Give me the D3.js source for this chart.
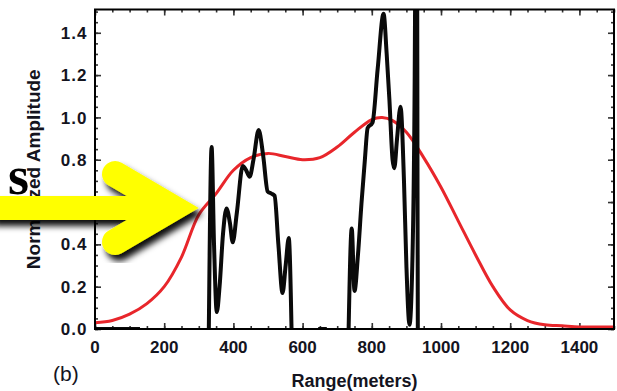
<!DOCTYPE html>
<meta charset="utf-8">
<style>
body { margin: 0; background: #fff; }
.tickLabel { font-family: "Liberation Sans", Arial, sans-serif; font-weight: bold; font-size: 17px; fill: #14141e; }
</style>
<html>
<body>
<div id="chart"></div>
<script src="https://d3js.org/d3.v7.min.js"></script>
<script>

// tick values
var rangeTicks = [0, 200, 400, 600, 800, 1000, 1200, 1400];
var ampTicks = [0.0, 0.2, 0.4, 0.6, 0.8, 1.0, 1.2, 1.4];

// red (smooth envelope)
var redRange = [0, 50, 100, 150, 200, 250, 300, 350, 400, 450, 500, 550, 600, 650, 700, 750, 800, 830, 860, 900, 950, 1000, 1050, 1100, 1150, 1200, 1250, 1300, 1350, 1400, 1450, 1500];
var redAmp   = [0.03, 0.04, 0.07, 0.12, 0.2, 0.34, 0.54, 0.64, 0.75, 0.81, 0.83, 0.815, 0.80, 0.81, 0.86, 0.93, 0.99, 1.0, 0.985, 0.93, 0.81, 0.67, 0.51, 0.35, 0.2, 0.09, 0.04, 0.02, 0.015, 0.01, 0.01, 0.01];

// black (measured), null = no data
var blackRange = [0, 130, 131,
  329, 337, 344, 352, 360, 370, 380, 390, 398, 410, 427, 437, 447, 458, 473, 486, 499, 510, 519, 530, 542, 551, 560, 568,
  569, 645, 670, 671,
  733, 742, 750, 760, 770, 780, 788, 802, 817, 834, 843, 851, 860, 865, 873, 883, 893, 900, 909, 917, 924, 926, 928, 931, 932, 933];
var blackAmp = [0, 0, null,
  0, 0.86, 0.4, 0.08, 0.2, 0.45, 0.57, 0.5, 0.41, 0.55, 0.77, 0.75, 0.72, 0.8, 0.94, 0.82, 0.65, 0.64, 0.63, 0.4, 0.17, 0.3, 0.43, 0,
  null, 0, 0, null,
  0, 0.475, 0.18, 0.35, 0.59, 0.8, 0.95, 0.975, 1.23, 1.49, 1.3, 1.08, 0.8, 0.76, 0.9, 1.05, 0.7, 0.3, 0.02, 0.3, 1.2, 1.8, 2.2, 1.8, 0.8, 0];

var W = 617, H = 391;
var margin = {top: 9.5, right: 3, bottom: 62, left: 95},
    width = W - margin.left - margin.right,
    height = H - margin.top - margin.bottom;

var svg = d3.select("#chart").append("svg")
    .attr("width", W).attr("height", H);

var defs = svg.append("defs");
defs.append("clipPath").attr("id", "plotClip")
  .append("rect").attr("width", width).attr("height", height);
var f = defs.append("filter").attr("id", "shadow")
    .attr("x", "-20%").attr("y", "-20%").attr("width", "150%").attr("height", "150%");
f.append("feDropShadow").attr("dx", 4).attr("dy", 6).attr("stdDeviation", 3)
  .attr("flood-color", "#000").attr("flood-opacity", 0.95);

var g = svg.append("g").attr("transform", "translate(" + margin.left + "," + margin.top + ")");

var x = d3.scaleLinear().domain([0, 1500]).range([0, width]);
var y = d3.scaleLinear().domain([0, 1.51]).range([height, 0]);

// minor ticks
var xMinor = d3.range(0, 1501, 50);
var yMinor = d3.range(0, 1.51, 0.05);

function tickAxis(axis, ticks, size) {
  return axis.tickValues(ticks).tickSize(size).tickFormat("");
}

// inward ticks on all four sides
[[d3.axisBottom, xMinor, -3, "translate(0," + height + ")"],
 [d3.axisBottom, rangeTicks, -6, "translate(0," + height + ")"],
 [d3.axisTop, xMinor, -3, "translate(0,0)"],
 [d3.axisTop, rangeTicks, -6, "translate(0,0)"]].forEach(function(a) {
  g.append("g").attr("class", "tk").attr("transform", a[3]).call(tickAxis(a[0](x), a[1], a[2]));
});
[[d3.axisLeft, yMinor, -3, "translate(0,0)"],
 [d3.axisLeft, ampTicks, -6, "translate(0,0)"],
 [d3.axisRight, yMinor, -3, "translate(" + width + ",0)"],
 [d3.axisRight, ampTicks, -6, "translate(" + width + ",0)"]].forEach(function(a) {
  g.append("g").attr("class", "tk").attr("transform", a[3]).call(tickAxis(a[0](y), a[1], a[2]));
});
g.selectAll(".tk path").remove();
g.selectAll(".tk line").attr("stroke", "#333").attr("stroke-width", 1.6);

// tick labels
g.selectAll(".xl").data(rangeTicks).enter().append("text")
  .attr("class", "tickLabel")
  .attr("x", function(d) { return x(d); })
  .attr("y", height + 24)
  .attr("text-anchor", "middle")
  .text(function(d) { return d; });
g.selectAll(".yl").data(ampTicks).enter().append("text")
  .attr("class", "tickLabel")
  .attr("x", -7.5)
  .attr("y", function(d) { return y(d); })
  .attr("dy", "0.36em")
  .attr("text-anchor", "end")
  .style("letter-spacing", "1px")
  .text(function(d) { return d.toFixed(1); });

// curves
var plot = g.append("g").attr("clip-path", "url(#plotClip)");

var redData = redRange.map(function(r, i) { return [r, redAmp[i]]; });
plot.append("path").datum(redData)
  .attr("fill", "none").attr("stroke", "#e8262b").attr("stroke-width", 3)
  .attr("d", d3.line().curve(d3.curveCatmullRom)
    .x(function(d) { return x(d[0]); }).y(function(d) { return y(d[1]); }));

var blackData = blackRange.map(function(r, i) { return [r, blackAmp[i]]; });
plot.append("path").datum(blackData)
  .attr("fill", "none").attr("stroke", "#0a0a0a").attr("stroke-width", 4)
  .attr("stroke-linejoin", "round")
  .attr("d", d3.line().curve(d3.curveMonotoneX)
    .defined(function(d) { return d[1] !== null; })
    .x(function(d) { return x(d[0]); }).y(function(d) { return y(d[1]); }));

// frame
g.append("rect").attr("width", width).attr("height", height)
  .attr("fill", "none").attr("stroke", "#000").attr("stroke-width", 2);

// axis titles
g.append("text")
  .attr("transform", "translate(" + (-55) + "," + (height / 2) + ") rotate(-90)")
  .attr("text-anchor", "middle")
  .style("font-family", "Liberation Sans, Arial, sans-serif")
  .style("font-weight", "bold").style("font-size", "19px").attr("fill", "#14141e")
  .text("Normalized Amplitude");

g.append("text")
  .attr("x", width / 2).attr("y", height + 58)
  .attr("text-anchor", "middle")
  .style("font-family", "Liberation Sans, Arial, sans-serif")
  .style("font-weight", "bold").style("font-size", "18px").attr("fill", "#14141e")
  .text("Range(meters)");

svg.append("text")
  .attr("x", 53).attr("y", 381)
  .style("font-family", "Liberation Sans, Arial, sans-serif")
  .style("font-size", "21px").attr("fill", "#14141e")
  .text("(b)");

// overlay: partial serif word and yellow arrow
svg.append("text")
  .attr("x", 29).attr("y", 194)
  .attr("text-anchor", "end")
  .style("font-family", "Liberation Serif, serif")
  .style("font-weight", "bold").style("font-size", "54px").attr("fill", "#000")
  .text("s");

var arrow = svg.append("g").attr("filter", "url(#shadow)");
arrow.append("rect").attr("x", -10).attr("y", 196).attr("width", 170).attr("height", 24)
  .attr("fill", "#ffff00");
arrow.append("path")
  .attr("d", "M115,174 L173,208 L115,242")
  .attr("fill", "none").attr("stroke", "#ffff00").attr("stroke-width", 26)
  .attr("stroke-linecap", "round").attr("stroke-linejoin", "miter");

</script>
</body>
</html>
